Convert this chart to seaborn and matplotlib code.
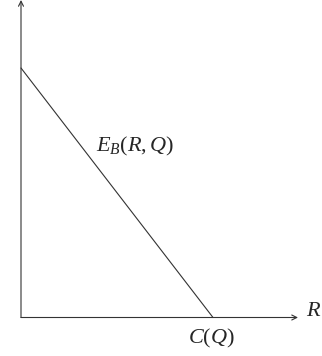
import matplotlib
matplotlib.use("Agg")
import matplotlib.pyplot as plt
import seaborn as sns
import pandas as pd

# Data (arbitrary units: C(Q)=1, E_B(0,Q)=1)
R_values = [0.0, 1.0]
E_values = [1.0, 0.0]
curve_label = r"$E_B(R,Q)$"
x_intercept_label = r"$C(Q)$"
x_axis_label = r"$R$"

sns.set_theme(style="white")
plt.rcParams["mathtext.fontset"] = "custom"
plt.rcParams["mathtext.rm"] = "Liberation Serif"
plt.rcParams["mathtext.it"] = "Liberation Serif:italic"
plt.rcParams["font.family"] = ["Liberation Serif", "DejaVu Serif"]

W, H = 322, 356
ox, oy = 21, 317.5          # origin pixel
sx, sy = 192.0, 249.5       # pixels per data unit

fig = plt.figure(figsize=(W / 100, H / 100), dpi=100)
ax = fig.add_axes([0, 0, 1, 1])
ax.set_xlim(-ox / sx, (W - ox) / sx)
ax.set_ylim(-(H - oy) / sy, oy / sy)
ax.axis("off")

df = pd.DataFrame({"R": R_values, "E": E_values})
sns.lineplot(data=df, x="R", y="E", ax=ax, color="#333333", linewidth=0.8)

arrow = dict(arrowstyle="->", color="#333333", lw=0.8, shrinkA=0, shrinkB=0,
             mutation_scale=9)
ax.annotate("", xy=((298 - ox) / sx, 0), xytext=(0, 0), arrowprops=arrow)
ax.annotate("", xy=(0, (oy - 0) / sy), xytext=(0, 0), arrowprops=arrow)

fs = 16
ax.text((135.5 - ox) / sx, (oy - 146) / sy, curve_label, fontsize=fs,
        ha="center", va="center")
ax.text((211 - ox) / sx, (oy - 338) / sy, x_intercept_label, fontsize=fs,
        ha="center", va="center")
ax.text((314 - ox) / sx, (oy - 312) / sy, x_axis_label, fontsize=fs,
        ha="center", va="center")

fig.savefig("out.png", dpi=100)
